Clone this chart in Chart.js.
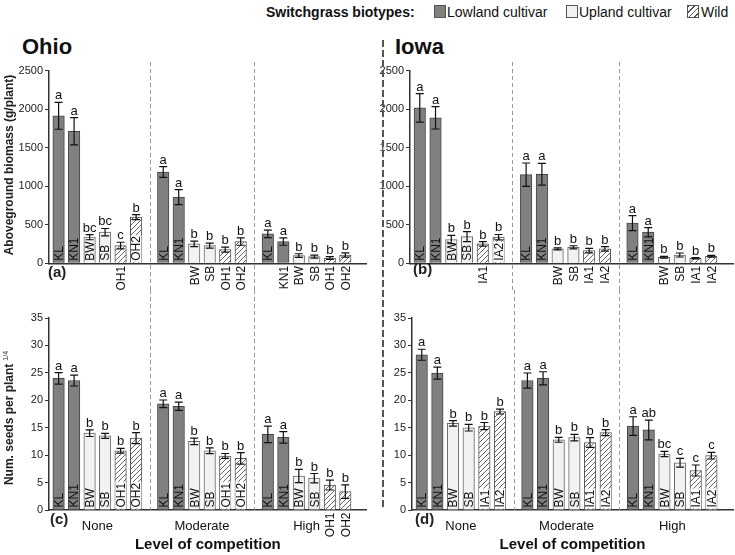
<!DOCTYPE html>
<html>
<head>
<meta charset="utf-8">
<script src="https://cdn.jsdelivr.net/npm/chart.js@4.4.0/dist/chart.umd.min.js"></script>
<style>
  body { margin: 0; background: #fff; width: 735px; height: 555px; position: relative; overflow: hidden;
         font-family: "Liberation Sans", Arial, sans-serif; color: #111; }
  canvas { position: absolute; }
  .lg { position: absolute; top: 4px; font-size: 14px; line-height: 16px; white-space: nowrap; }
  .sw { position: absolute; top: 5px; width: 12px; height: 13px; border: 1px solid #555; box-sizing: border-box; }
  .site { position: absolute; top: 36px; font-weight: bold; font-size: 22px; line-height: 22px; }
  #divider { position: absolute; left: 382px; top: 40px; width: 2px; height: 470px;
             background: repeating-linear-gradient(to bottom, #555 0 7px, transparent 7px 10px); }
</style>
</head>
<body>
<div class="lg" style="left:266px;font-weight:bold">Switchgrass biotypes:</div>
<div class="sw" style="left:434px;background:#808080"></div>
<div class="lg" style="left:447px">Lowland cultivar</div>
<div class="sw" style="left:566px;background:#f2f2f2"></div>
<div class="lg" style="left:579px">Upland cultivar</div>
<div class="sw" style="left:687px;background:repeating-linear-gradient(135deg,#555 0 1px,#fff 1px 4px)"></div>
<div class="lg" style="left:701px">Wild</div>
<div class="site" style="left:22px">Ohio</div>
<div class="site" style="left:395px">Iowa</div>

<canvas id="chartA" width="372" height="234" style="left:0;top:56px"></canvas>
<canvas id="chartB" width="363" height="234" style="left:372px;top:56px"></canvas>
<canvas id="chartC" width="372" height="265" style="left:0;top:290px"></canvas>
<canvas id="chartD" width="363" height="265" style="left:372px;top:290px"></canvas>
<div id="divider"></div>

<script>
// --- データ ---
const levels = ['None', 'Moderate', 'High'];
const ohioNames = ['KL', 'KN1', 'BW', 'SB', 'OH1', 'OH2'];
const iowaNames = ['KL', 'KN1', 'BW', 'SB', 'IA1', 'IA2'];
const biotypes = ['Lowland cultivar', 'Upland cultivar', 'Wild'];
const biotypeOfName = [0, 0, 1, 1, 2, 2];
const biomassTicks = [0, 500, 1000, 1500, 2000, 2500];
const seedTicks = [0, 5, 10, 15, 20, 25, 30, 35];

// 地上部バイオマス (g/plant) 行 = 競合レベル
const ohioBiomass = [
    [1914, 1714, 339, 404, 230, 599],
    [1185, 859, 252, 230, 178, 282],
    [382, 282, 100, 87, 69, 108]
];
const ohioBiomassErr = [
    [174, 178, 33, 48, 43, 33],
    [70, 98, 35, 33, 33, 48],
    [48, 48, 24, 20, 18, 28]
];
const ohioBiomassLetters = [
    ['a', 'a', 'bc', 'bc', 'c', 'b'],
    ['a', 'a', 'b', 'b', 'b', 'b'],
    ['a', 'a', 'b', 'b', 'b', 'b']
];
const iowaBiomass = [
    [2018, 1888, 308, 347, 252, 339],
    [1150, 1155, 187, 208, 165, 187],
    [521, 404, 78, 108, 65, 91]
];
const iowaBiomassErr = [
    [185, 145, 54, 65, 30, 35],
    [152, 141, 13, 20, 30, 30],
    [98, 60, 11, 26, 9, 11]
];
const iowaBiomassLetters = [
    ['a', 'a', 'b', 'b', 'b', 'b'],
    ['a', 'a', 'b', 'b', 'b', 'b'],
    ['a', 'a', 'b', 'b', 'b', 'b']
];

// 種子数 (1/4乗)
const ohioSeeds = [
    [24.0, 23.6, 14.0, 13.5, 10.8, 13.1],
    [19.35, 18.9, 12.5, 10.8, 9.85, 9.4],
    [13.8, 13.25, 6.2, 5.8, 4.55, 3.35]
];
const ohioSeedsErr = [
    [1.05, 1.0, 0.6, 0.45, 0.45, 1.0],
    [0.7, 0.75, 0.6, 0.53, 0.45, 1.05],
    [1.5, 1.05, 1.2, 0.85, 0.9, 1.23]
];
const ohioSeedsLetters = [
    ['a', 'a', 'b', 'b', 'b', 'b'],
    ['a', 'a', 'b', 'b', 'b', 'b'],
    ['a', 'a', 'b', 'b', 'b', 'b']
];
const iowaSeeds = [
    [28.3, 24.95, 15.8, 15.0, 15.3, 17.95],
    [23.6, 24.0, 12.8, 13.2, 12.3, 14.1],
    [15.3, 14.6, 10.2, 8.6, 7.2, 9.9]
];
const iowaSeedsErr = [
    [1.0, 1.1, 0.5, 0.6, 0.65, 0.45],
    [1.37, 1.2, 0.45, 0.6, 0.9, 0.55],
    [1.7, 1.8, 0.48, 0.8, 1.0, 0.6]
];
const iowaSeedsLetters = [
    ['a', 'a', 'b', 'b', 'b', 'b'],
    ['a', 'a', 'b', 'b', 'b', 'b'],
    ['a', 'ab', 'bc', 'c', 'c', 'c']
];

// --- レイアウト ---
const GROUP_STEP = 6.75;   // x軸上のグループ間隔 (バー1本 = 1)
const X_MIN = -0.62;
const X_MAX = 19.88;
const FONT = '"Liberation Sans", Arial, sans-serif';

Chart.defaults.font.family = FONT;
Chart.defaults.color = '#111';

function hatchPattern() {
    const c = document.createElement('canvas');
    c.width = 5; c.height = 5;
    const g = c.getContext('2d');
    g.fillStyle = '#fff';
    g.fillRect(0, 0, 5, 5);
    g.strokeStyle = '#666';
    g.lineWidth = 1;
    g.beginPath();
    g.moveTo(0, 5); g.lineTo(5, 0);
    g.moveTo(-1, 1); g.lineTo(1, -1);
    g.moveTo(4, 6); g.lineTo(6, 4);
    g.stroke();
    return g.createPattern(c, 'repeat');
}

const fills = ['#808080', '#f2f2f2', hatchPattern()];
const borders = ['#444', '#666', '#555'];

function buildDatasets(names, values, errs, letters) {
    return biotypes.map((label, b) => {
        const points = [];
        levels.forEach((lv, g) => {
            names.forEach((name, i) => {
                if (biotypeOfName[i] !== b) return;
                points.push({ x: g * GROUP_STEP + i, y: values[g][i], err: errs[g][i], letter: letters[g][i], name: name });
            });
        });
        return {
            label: label,
            data: points,
            backgroundColor: fills[b],
            borderColor: borders[b],
            borderWidth: 1,
            barThickness: 11.5,
            grouped: false
        };
    });
}

// エラーバー・文字・区切り線などを描くプラグイン
const panelDecor = {
    id: 'panelDecor',
    beforeDatasetsDraw(chart, args, opts) {
        const ctx = chart.ctx;
        const xs = chart.scales.x;
        ctx.save();
        ctx.strokeStyle = '#9a9a9a';
        ctx.lineWidth = 1;
        ctx.setLineDash([4, 3]);
        for (let g = 0; g < levels.length - 1; g++) {
            const px = Math.round(xs.getPixelForValue(g * GROUP_STEP + 5 + (GROUP_STEP - 5) / 2)) + 0.5;
            ctx.beginPath();
            ctx.moveTo(px, opts.sepTop);
            ctx.lineTo(px, opts.sepBottom === 'axis' ? chart.chartArea.bottom : chart.height);
            ctx.stroke();
        }
        ctx.restore();
    },
    afterDatasetsDraw(chart, args, opts) {
        const ctx = chart.ctx;
        const ys = chart.scales.y;
        const area = chart.chartArea;
        ctx.save();
        chart.data.datasets.forEach((ds, di) => {
            const meta = chart.getDatasetMeta(di);
            meta.data.forEach((bar, i) => {
                const d = ds.data[i];
                const top = ys.getPixelForValue(d.y + d.err);
                const bot = ys.getPixelForValue(d.y - d.err);
                // エラーバー
                ctx.strokeStyle = '#111';
                ctx.lineWidth = 1.2;
                ctx.beginPath();
                ctx.moveTo(bar.x, top); ctx.lineTo(bar.x, bot);
                ctx.moveTo(bar.x - 4, top); ctx.lineTo(bar.x + 4, top);
                ctx.moveTo(bar.x - 4, bot); ctx.lineTo(bar.x + 4, bot);
                ctx.stroke();
                // 有意差の文字
                ctx.fillStyle = '#111';
                ctx.font = '13px ' + FONT;
                ctx.textAlign = 'center';
                ctx.textBaseline = 'alphabetic';
                ctx.fillText(d.letter, bar.x, top - 3);
                // 品種名 (縦書き)
                ctx.font = '12px ' + FONT;
                const tw = ctx.measureText(d.name).width;
                const inside = (bar.base - bar.y) >= tw + 3;
                ctx.save();
                ctx.translate(bar.x + 4.3, inside ? bar.base - 2 : bar.base + 3);
                ctx.rotate(-Math.PI / 2);
                ctx.textAlign = inside ? 'left' : 'right';
                if (inside && di === 2) {
                    ctx.fillStyle = '#fff';
                    ctx.fillRect(-1, -9.5, tw + 2, 10.5);
                }
                ctx.fillStyle = '#111';
                ctx.fillText(d.name, 0, 0);
                ctx.restore();
            });
        });
        // パネル記号
        ctx.font = 'bold 15px ' + FONT;
        ctx.textAlign = 'left';
        ctx.textBaseline = 'middle';
        ctx.fillStyle = '#222';
        ctx.fillText(opts.letter, area.left + opts.letterDx, area.bottom + opts.letterDy);
        // y軸タイトル
        if (opts.yTitle) {
            ctx.save();
            ctx.translate(10, (area.top + area.bottom) / 2 + opts.titleDy);
            ctx.rotate(-Math.PI / 2);
            ctx.font = 'bold 12px ' + FONT;
            const mw = ctx.measureText(opts.yTitle).width;
            ctx.font = '7px ' + FONT;
            const sw = opts.sup ? ctx.measureText(opts.sup).width + 3 : 0;
            const x0 = -(mw + sw) / 2;
            ctx.textAlign = 'left';
            ctx.textBaseline = 'middle';
            ctx.font = 'bold 12px ' + FONT;
            ctx.fillText(opts.yTitle, x0, 0);
            if (opts.sup) {
                ctx.font = '7px ' + FONT;
                ctx.fillText(opts.sup, x0 + mw + 3, -4);
            }
            ctx.restore();
        }
        ctx.restore();
    }
};

function makeChart(id, cfg) {
    const canvas = document.getElementById(id);
    const W = canvas.width, H = canvas.height;
    return new Chart(canvas, {
        type: 'bar',
        data: { datasets: cfg.datasets },
        options: {
            responsive: false,
            animation: false,
            devicePixelRatio: 1,
            layout: { padding: { left: 0, top: cfg.T, right: W - cfg.R, bottom: 0 } },
            plugins: {
                legend: { display: false },
                tooltip: { enabled: false },
                panelDecor: cfg.decor
            },
            scales: {
                x: {
                    type: 'linear',
                    min: X_MIN,
                    max: X_MAX,
                    offset: false,
                    grid: { display: false, drawTicks: false },
                    border: { display: true, color: '#333', width: 1.5 },
                    ticks: {
                        display: cfg.showLevels,
                        autoSkip: false,
                        maxRotation: 0,
                        padding: 9,
                        color: '#111',
                        font: { size: 13 },
                        callback: (v, i) => levels[i]
                    },
                    afterBuildTicks: s => { s.ticks = levels.map((lv, g) => ({ value: g * GROUP_STEP + 2.5 })); },
                    title: {
                        display: cfg.showLevels,
                        text: 'Level of competition',
                        color: '#111',
                        font: { size: 15, weight: 'bold' },
                        padding: { top: 0, bottom: 1 }
                    },
                    afterFit: s => { s.height = H - cfg.B; }
                },
                y: {
                    min: 0,
                    max: cfg.yTicks[cfg.yTicks.length - 1],
                    grid: { drawOnChartArea: false, tickLength: 4, color: '#333' },
                    border: { display: true, color: '#333', width: 1.5 },
                    ticks: { padding: 2, color: '#222', font: { size: 11 }, callback: v => String(v) },
                    afterBuildTicks: s => { s.ticks = cfg.yTicks.map(v => ({ value: v })); },
                    afterFit: s => { s.width = cfg.L; }
                }
            }
        },
        plugins: [panelDecor]
    });
}

document.addEventListener('DOMContentLoaded', () => {
    makeChart('chartA', {
        L: 49, T: 14.7, R: 366.7, B: 207.3,
        yTicks: biomassTicks, showLevels: false,
        datasets: buildDatasets(ohioNames, ohioBiomass, ohioBiomassErr, ohioBiomassLetters),
        decor: { letter: '(a)', letterDx: -1, letterDy: 10, sepTop: 6, sepBottom: 'canvas',
                 yTitle: 'Aboveground biomass (g/plant)', titleDy: -2 }
    });
    makeChart('chartB', {
        L: 38, T: 14.7, R: 361, B: 207.3,
        yTicks: biomassTicks, showLevels: false,
        datasets: buildDatasets(iowaNames, iowaBiomass, iowaBiomassErr, iowaBiomassLetters),
        decor: { letter: '(b)', letterDx: 3, letterDy: 7, sepTop: 6, sepBottom: 'canvas' }
    });
    makeChart('chartC', {
        L: 49, T: 28, R: 366.7, B: 220,
        yTicks: seedTicks, showLevels: true,
        datasets: buildDatasets(ohioNames, ohioSeeds, ohioSeedsErr, ohioSeedsLetters),
        decor: { letter: '(c)', letterDx: 1, letterDy: 10, sepTop: 0, sepBottom: 'axis',
                 yTitle: 'Num. seeds per plant', sup: '1/4', titleDy: 4 }
    });
    makeChart('chartD', {
        L: 40, T: 28, R: 361, B: 220,
        yTicks: seedTicks, showLevels: true,
        datasets: buildDatasets(iowaNames, iowaSeeds, iowaSeedsErr, iowaSeedsLetters),
        decor: { letter: '(d)', letterDx: 3, letterDy: 10, sepTop: 0, sepBottom: 'axis' }
    });
});
</script>
</body>
</html>
